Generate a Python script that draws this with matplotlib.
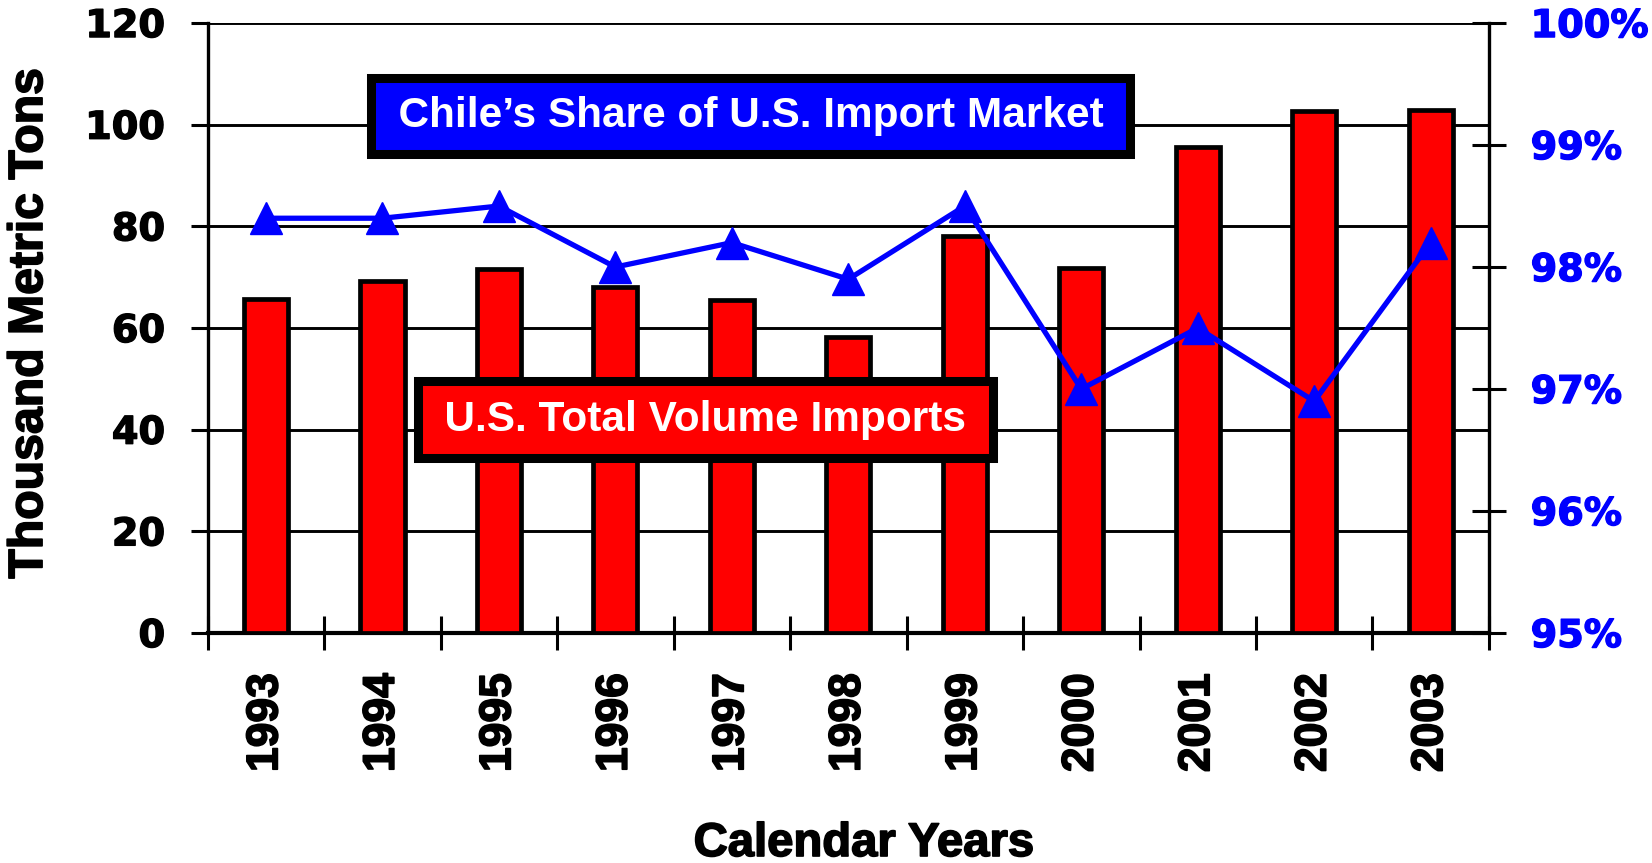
import matplotlib.pyplot as plt
import matplotlib.patheffects as pe
import numpy as np

# values
years = ["1993", "1994", "1995", "1996", "1997", "1998", "1999", "2000", "2001", "2002", "2003"]
volume = [65.8, 69.3, 71.6, 68.1, 65.6, 58.2, 78.2, 71.9, 95.6, 102.6, 102.9]  # thousand metric tons
share = [98.4, 98.4, 98.5, 98.0, 98.2, 97.9, 98.5, 97.0, 97.5, 96.9, 98.2]  # percent

left_ticks = [0, 20, 40, 60, 80, 100, 120]
right_ticks = [95, 96, 97, 98, 99, 100]

BOLD = ["Liberation Sans", "DejaVu Sans"]
HEAVY = "DejaVu Sans"


def thick(color="black", w=1.0):
    return [pe.withStroke(linewidth=w, foreground=color)]


fig = plt.figure(figsize=(16.52, 8.63), dpi=100)
ax = fig.add_axes([0.1257, 0.2665, 0.7756, 0.7068])
ax2 = ax.twinx()

x = np.arange(len(years))

# bars on the left axis
ax.bar(x, volume, width=0.38, color="#ff0000", edgecolor="black", linewidth=3.4, zorder=3)
ax.set_xlim(-0.5, len(years) - 0.5)
ax.set_ylim(0, 120)
ax.set_yticks(left_ticks)
ax.set_yticklabels([str(t) for t in left_ticks], fontfamily=HEAVY, fontweight="bold", fontsize=27.5,
                   path_effects=thick())
ax.tick_params(axis="y", direction="out", length=12.5, width=2.2, pad=18)
ax.grid(axis="y", color="black", linewidth=2.1, zorder=0)
ax.set_axisbelow(True)

# category boundaries as ticks, labels at the bar centers
ax.set_xticks(np.arange(-0.5, len(years), 1.0))
ax.set_xticklabels([])
ax.tick_params(axis="x", which="major", direction="inout", length=24, width=2.2)
ax.set_xticks(x, minor=True)
ax.set_xticklabels(years, minor=True, rotation=90, fontfamily=BOLD, fontweight="bold", fontsize=32,
                   path_effects=thick(w=1.2))
ax.tick_params(axis="x", which="minor", length=0, pad=29)

for side in ["top", "right"]:
    ax.spines[side].set_visible(False)
ax.spines["left"].set_linewidth(2.4)
ax.spines["bottom"].set_linewidth(3)

# share line on the right axis
ax2.plot(x, share, color="#0000ff", linewidth=3.8, marker="^", markersize=23, zorder=4)
ax2.set_ylim(95, 100)
ax2.set_yticks(right_ticks)
ax2.set_yticklabels([f"{t}%" for t in right_ticks], fontfamily=HEAVY, fontweight="bold",
                    fontsize=27.5, color="#0000ff", path_effects=thick("#0000ff"))
ax2.tick_params(axis="y", direction="inout", length=24, width=2.2, pad=18)
for side in ["top", "left", "bottom"]:
    ax2.spines[side].set_visible(False)
ax2.spines["right"].set_linewidth(2.4)

box = dict(boxstyle="square,pad=0.43", edgecolor="black", linewidth=6.5)
ax2.text(0.4238, 0.8477, "\u2009Chile\u2019s Share of U.S. Import Market\u2009", transform=ax2.transAxes,
         ha="center", va="center", color="white", fontfamily=BOLD, fontweight="bold",
         fontsize=30.5, bbox=dict(box, facecolor="#0000ff"), zorder=6)
ax2.text(0.3882, 0.35, "\u2009U.S. Total Volume Imports\u2009", transform=ax2.transAxes,
         ha="center", va="center", color="white", fontfamily=BOLD, fontweight="bold",
         fontsize=30.5, bbox=dict(box, facecolor="#ff0000"), zorder=6)

fig.text(0.0179, 0.625, "Thousand Metric Tons", rotation=90, ha="center", va="center",
         fontfamily=BOLD, fontweight="bold", fontsize=34.7, path_effects=thick(w=1.2))
fig.text(0.523, 0.022, "Calendar Years", ha="center", va="center",
         fontfamily=BOLD, fontweight="bold", fontsize=34, path_effects=thick(w=1.2))

fig.savefig("out.png", dpi=100)
